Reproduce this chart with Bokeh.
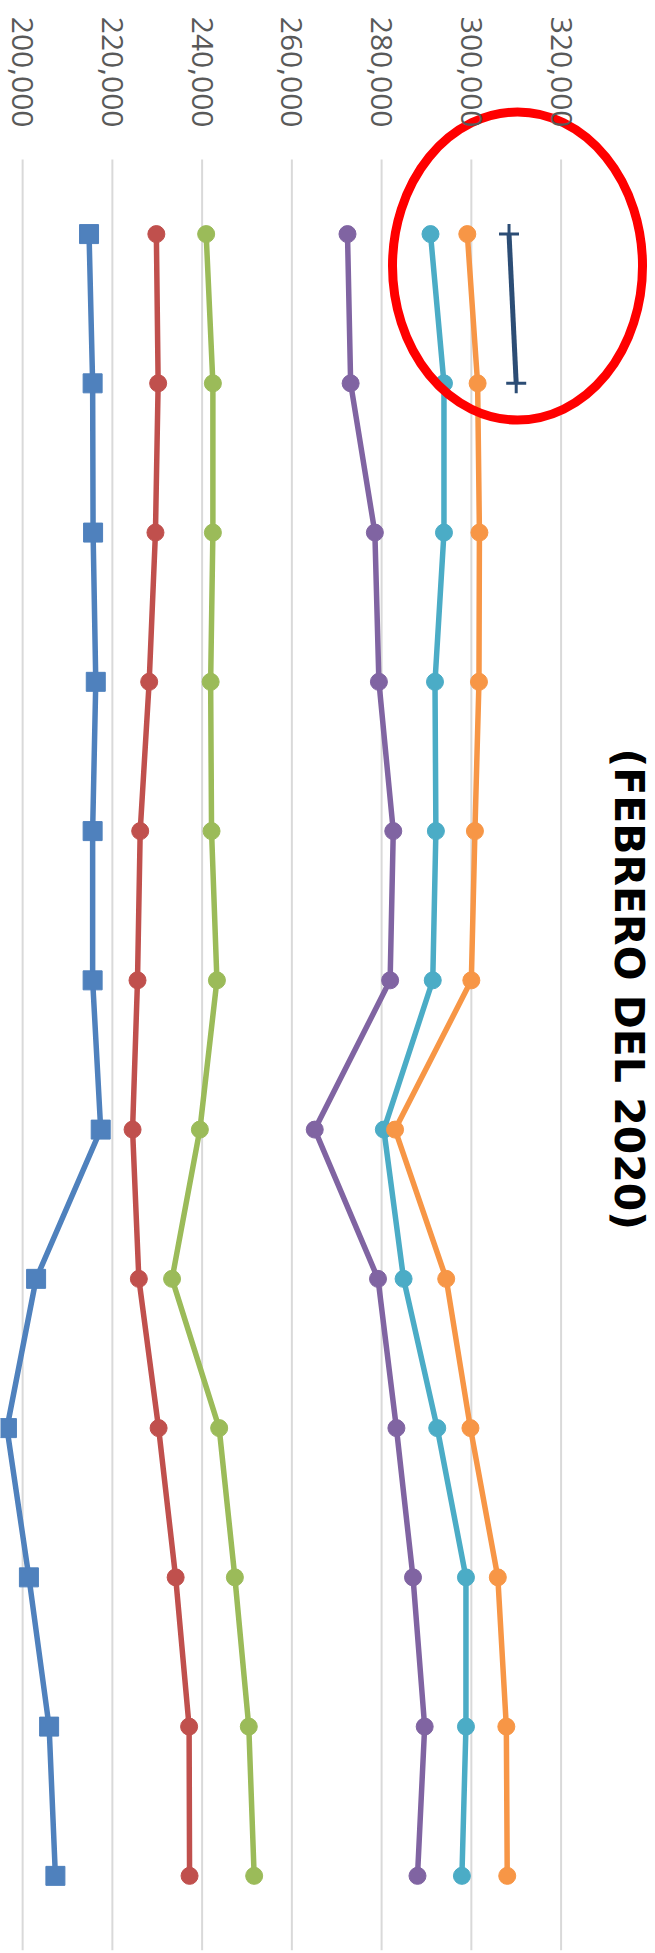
import math
from bokeh.plotting import figure
from bokeh.models import (Range1d, FixedTicker, NumeralTickFormatter, Label,
                          ColumnDataSource)
from bokeh.embed import file_html
from bokeh.resources import INLINE

# ---------------- data ----------------
periodos = [1, 2, 3, 4, 5, 6, 7, 8, 9, 10, 11, 12]
serie_azul = [214800, 215600, 215700, 216300, 215600, 215600, 217400, 203000, 196500, 201400, 205900, 207300]
serie_roja = [229800, 230200, 229600, 228200, 226200, 225600, 224500, 225900, 230300, 234100, 237100, 237200]
serie_verde = [240900, 242400, 242400, 241900, 242100, 243300, 239500, 233300, 243800, 247300, 250400, 251600]
serie_morada = [272400, 273100, 278500, 279400, 282600, 281900, 265100, 279200, 283300, 287000, 289600, 288000]
serie_aqua = [290900, 293900, 293900, 291900, 292100, 291400, 280500, 284900, 292400, 298800, 298800, 297900]
serie_naranja = [299100, 301400, 301800, 301700, 300800, 300000, 283000, 294400, 299800, 305900, 307800, 308000]
periodos_2020 = [1, 2]
serie_2020 = [308400, 310000]
tick_values = [200000, 220000, 240000, 260000, 280000, 300000, 320000]
titulo = "(FEBRERO DEL 2020)"

# ---------------- figure ----------------
band_top = periodos[0] - 0.5
band_bottom = periodos[-1] + 0.5

p = figure(width=655, height=1953,
           x_range=Range1d(195066, 341043),
           y_range=Range1d(band_bottom, -0.565),
           x_axis_location="above", y_axis_location=None,
           toolbar_location=None, output_backend="svg",
           min_border_top=0, min_border_bottom=3,
           min_border_left=0, min_border_right=0)
p.outline_line_color = None
p.background_fill_color = "white"
p.border_fill_color = "white"

ax = p.xaxis[0]
ax.fixed_location = band_top
ax.ticker = FixedTicker(ticks=tick_values)
ax.formatter = NumeralTickFormatter(format="0,0")
ax.major_label_orientation = -math.pi / 2
ax.major_label_text_font = "Open Sans"
ax.major_label_text_font_size = "30px"
ax.major_label_text_color = "#595959"
ax.major_label_standoff = 32
ax.axis_line_color = None
ax.major_tick_line_color = None
ax.minor_tick_line_color = None
ax.major_tick_out = 0
ax.major_tick_in = 0

p.xgrid.visible = False
p.ygrid.visible = False

# value gridlines spanning the category band
p.segment(x0=tick_values, y0=[band_top] * len(tick_values),
          x1=tick_values, y1=[band_bottom] * len(tick_values),
          line_color="#D9D9D9", line_width=2)

series = [
    (serie_azul, "#4F81BD", "square", 19),
    (serie_roja, "#C0504D", "circle", 17),
    (serie_verde, "#9BBB59", "circle", 17),
    (serie_morada, "#8064A2", "circle", 17),
    (serie_aqua, "#4BACC6", "circle", 17),
    (serie_naranja, "#F79646", "circle", 17),
]
for vals, col, mk, sz in series:
    src = ColumnDataSource(dict(x=vals, y=periodos))
    p.line("x", "y", source=src, line_color=col, line_width=5.5, line_join="round")
    p.scatter("x", "y", source=src, marker=mk, size=sz, fill_color=col, line_color=col)

src7 = ColumnDataSource(dict(x=serie_2020, y=periodos_2020))
p.line("x", "y", source=src7, line_color="#2C4D75", line_width=5, line_join="round")
p.scatter("x", "y", source=src7, marker="cross", size=20, line_color="#2C4D75", line_width=3)

# red highlight ellipse
p.ellipse(x=[310290], y=[1.214], width=[55720], height=[2.064],
          fill_color=None, line_color="#FF0000", line_width=9)

# title (rotated, reading top to bottom)
p.add_layout(Label(x=335190, y=6.06, text=titulo, angle=-math.pi / 2,
                   text_align="center", text_baseline="alphabetic",
                   text_font="DejaVu Sans", text_font_style="bold",
                   text_font_size="41px", text_color="black"))

open("out.html", "w").write(file_html(p, INLINE))
